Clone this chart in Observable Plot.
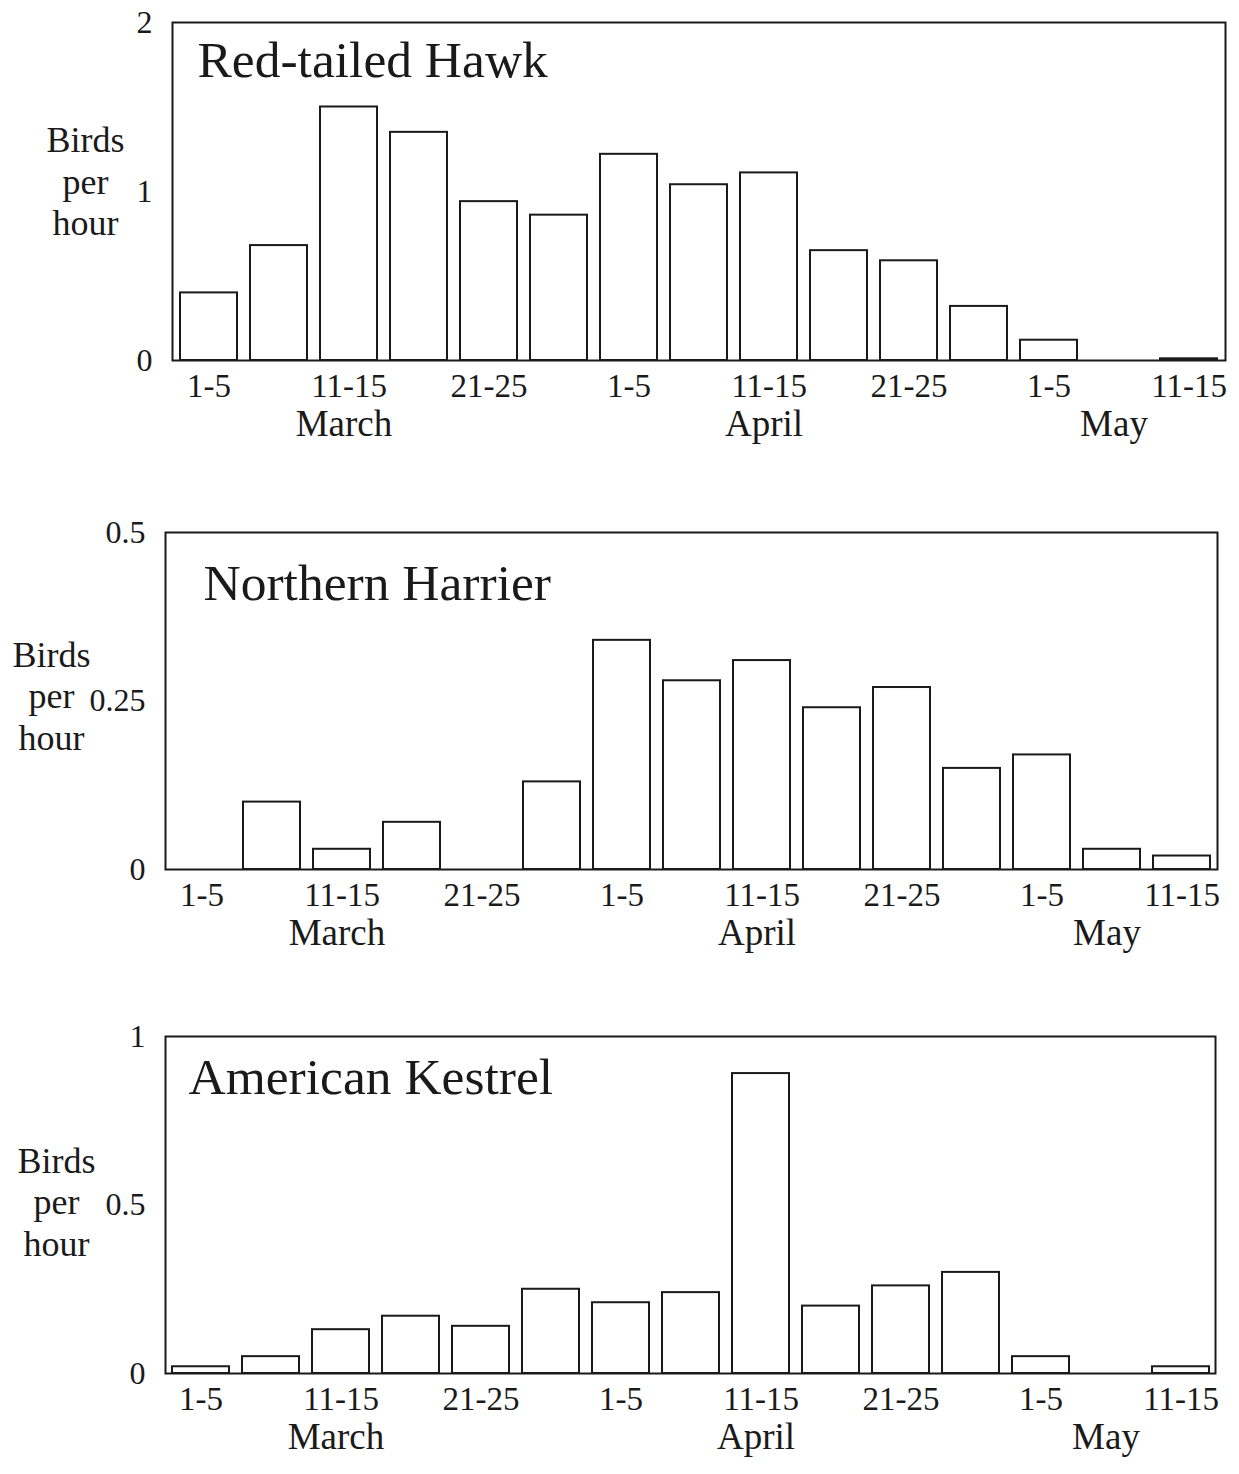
<!DOCTYPE html>
<html><head><meta charset="utf-8">
<script src="https://cdn.jsdelivr.net/npm/d3@7"></script>
<script src="https://cdn.jsdelivr.net/npm/@observablehq/plot@0.6"></script>
<style>
body{margin:0;background:#fff;}
#chart{width:1239px;}
#chart svg{display:block;}
</style></head><body><div id="chart"></div>
<script>
// ---- data ----
const periods = ["Mar 1-5","Mar 6-10","Mar 11-15","Mar 16-20","Mar 21-25","Mar 26-31",
                 "Apr 1-5","Apr 6-10","Apr 11-15","Apr 16-20","Apr 21-25","Apr 26-30",
                 "May 1-5","May 6-10","May 11-15"];
const tickPeriods = ["Mar 1-5","Mar 11-15","Mar 21-25","Apr 1-5","Apr 11-15","Apr 21-25","May 1-5","May 11-15"];
const monthLabels = ["March","April","May"];
const monthAnchors = ["Mar 11-15","Apr 11-15","May 6-10"];
const species = ["Red-tailed Hawk","Northern Harrier","American Kestrel"];
const redTailedHawk   = [0.40,0.68,1.50,1.35,0.94,0.86,1.22,1.04,1.11,0.65,0.59,0.32,0.12,0,0.01];
const northernHarrier = [0,0.10,0.03,0.07,0,0.13,0.34,0.28,0.31,0.24,0.27,0.15,0.17,0.03,0.02];
const americanKestrel = [0.02,0.05,0.13,0.17,0.14,0.25,0.21,0.24,0.89,0.20,0.26,0.30,0.05,0,0.02];
const yMax = [2, 0.5, 1];
const yTicks = [[0,1,2],[0,0.25,0.5],[0,0.5,1]];
const yTitle = "Birds\nper\nhour";

// ---- layout ----
const series = [redTailedHawk, northernHarrier, americanKestrel];
const layout = [
  {height:490, mt:22, mb:130, ml:172, mr:14, tdx:25, tdy:18, lx:85, ldy:-11},
  {height:500, mt:42, mb:121, ml:165, mr:22, tdx:38, tdy:31, lx:51, ldy:-6},
  {height:484, mt:46, mb:101, ml:165, mr:24, tdx:23, tdy:21, lx:56, ldy:-4}
];
const font = "'Liberation Serif', 'DejaVu Serif', serif";
const ink = "#1a1a1a";
const container = document.getElementById("chart");

series.forEach((vals, i) => {
  const L = layout[i];
  const rows = periods.map((p, j) => ({period: p, value: vals[j]}));
  const months = monthLabels.map((m, j) => ({label: m, at: monthAnchors[j]}));
  const svg = Plot.plot({
    width: 1239,
    height: L.height,
    marginTop: L.mt, marginBottom: L.mb, marginLeft: L.ml, marginRight: L.mr,
    style: {fontFamily: font, fontSize: "32px", color: ink, background: "#fff"},
    x: {domain: periods, paddingInner: 0.19, paddingOuter: 0.08, label: null},
    y: {domain: [0, yMax[i]], label: null},
    marks: [
      Plot.barY(rows, {x: "period", y: "value", fill: "#fff", stroke: ink, strokeWidth: 2}),
      Plot.frame({stroke: ink, strokeWidth: 2}),
      Plot.axisY({ticks: yTicks[i], tickSize: 0, tickPadding: 20, tickFormat: d => String(d), label: null, fill: ink, fontSize: 32}),
      Plot.axisX({ticks: tickPeriods, tickSize: 0, tickPadding: 13, tickFormat: d => d.split(" ")[1], label: null, fill: ink, fontSize: 33}),
      Plot.text(months, {x: "at", y: () => 0, text: "label", dy: 64, dx: -5, lineAnchor: "middle", fontSize: 37, fill: ink}),
      Plot.text([species[i]], {frameAnchor: "top-left", dx: L.tdx, dy: L.tdy, lineAnchor: "top", textAnchor: "start", fontSize: 51.5, fill: ink}),
      Plot.text([yTitle], {frameAnchor: "left", dx: -(L.ml - L.lx), dy: L.ldy, textAnchor: "middle", lineAnchor: "middle", lineHeight: 1.15, fontSize: 36, fill: ink})
    ]
  });
  container.appendChild(svg);
});
</script>
</body></html>
